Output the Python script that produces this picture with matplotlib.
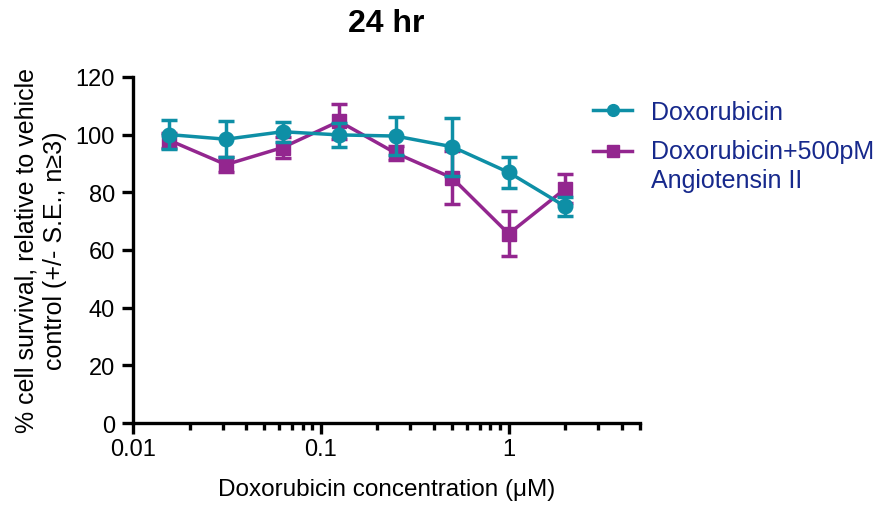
import matplotlib
matplotlib.use("Agg")
import matplotlib.pyplot as plt
from matplotlib.ticker import LogLocator, FixedLocator, NullFormatter
from matplotlib.lines import Line2D
from matplotlib.legend_handler import HandlerLine2D
import numpy as np

plt.rcParams['font.family'] = ['Liberation Sans', 'DejaVu Sans']

conc = [0.015625, 0.03125, 0.0625, 0.125, 0.25, 0.5, 1.0, 2.0]
dox = [100.0, 98.4, 101.0, 99.9, 99.5, 95.8, 86.9, 75.1]
dox_err = [5.0, 6.2, 3.5, 4.2, 6.5, 10.0, 5.5, 3.2]
dox_ang = [98.0, 89.6, 95.5, 104.6, 93.6, 85.0, 65.6, 81.2]
dox_ang_err = [2.5, 2.5, 3.5, 6.0, 2.5, 9.2, 7.8, 5.0]
x_ticks = [0.01, 0.1, 1]
x_tick_labels = ["0.01", "0.1", "1"]
y_ticks = [0, 20, 40, 60, 80, 100, 120]
labels = ["Doxorubicin", "Doxorubicin+500pM\nAngiotensin II"]

teal = "#0E8FA6"
purple = "#93268F"
legend_text = "#17298C"


class ShiftedHandler(HandlerLine2D):
    """Line handler whose symbol sits level with the first line of a two-line label."""
    def __init__(self, shift, **kw):
        super().__init__(**kw)
        self.shift = shift

    def create_artists(self, legend, orig_handle, xdescent, ydescent, width, height,
                       fontsize, trans):
        artists = super().create_artists(legend, orig_handle, xdescent, ydescent,
                                         width, height, fontsize, trans)
        for a in artists:
            a.set_ydata(np.asarray(a.get_ydata()) + self.shift)
        return artists


fig = plt.figure(figsize=(8.77, 5.06), dpi=100)
ax = fig.add_axes([0.1517, 0.162, 0.578, 0.684])

ax.errorbar(conc, dox, yerr=dox_err, color=teal, marker='o', markersize=10.5,
            linewidth=2.5, elinewidth=2.5, capsize=6, capthick=2.5, zorder=3)
ax.errorbar(conc, dox_ang, yerr=dox_ang_err, color=purple, marker='s', markersize=10,
            linewidth=2.5, elinewidth=2.5, capsize=6, capthick=2.5, zorder=2)

ax.set_xscale('log')
ax.set_xlim(0.01, 5)
ax.set_ylim(0, 120)
ax.set_yticks(y_ticks)
ax.xaxis.set_major_locator(FixedLocator(x_ticks))
ax.set_xticklabels(x_tick_labels)
ax.xaxis.set_minor_locator(LogLocator(base=10, subs=range(2, 10), numticks=20))
ax.xaxis.set_minor_formatter(NullFormatter())

for s in ['top', 'right']:
    ax.spines[s].set_visible(False)
for s in ['left', 'bottom']:
    ax.spines[s].set_linewidth(2.4)
ax.tick_params(axis='both', which='major', length=8, width=2.4, labelsize=17, direction='out', pad=5)
ax.tick_params(axis='x', which='minor', length=5, width=2.4, direction='out')
ax.tick_params(axis='x', which='major', pad=3)

ax.set_xlabel("Doxorubicin concentration (μM)", fontsize=17.5, labelpad=13)
ax.set_ylabel("% cell survival, relative to vehicle\ncontrol (+/- S.E., n≥3)", fontsize=18,
              linespacing=1.25, labelpad=6)
ax.set_title("24 hr", fontsize=23, fontweight='bold', pad=33)

h1 = Line2D([], [], color=teal, marker='o', markersize=8.5, linewidth=2.5)
h2 = Line2D([], [], color=purple, marker='s', markersize=8.5, linewidth=2.5)
leg = ax.legend([h1, h2], labels, loc='upper left', bbox_to_anchor=(0.888, 0.963), frameon=False,
                fontsize=18, handlelength=1.56, labelspacing=0.6, handletextpad=0.76,
                borderaxespad=0, handler_map={h2: ShiftedHandler(11.2)})
for t in leg.get_texts():
    t.set_color(legend_text)
    t.set_linespacing(1.3)

fig.savefig("out.png", dpi=100)
